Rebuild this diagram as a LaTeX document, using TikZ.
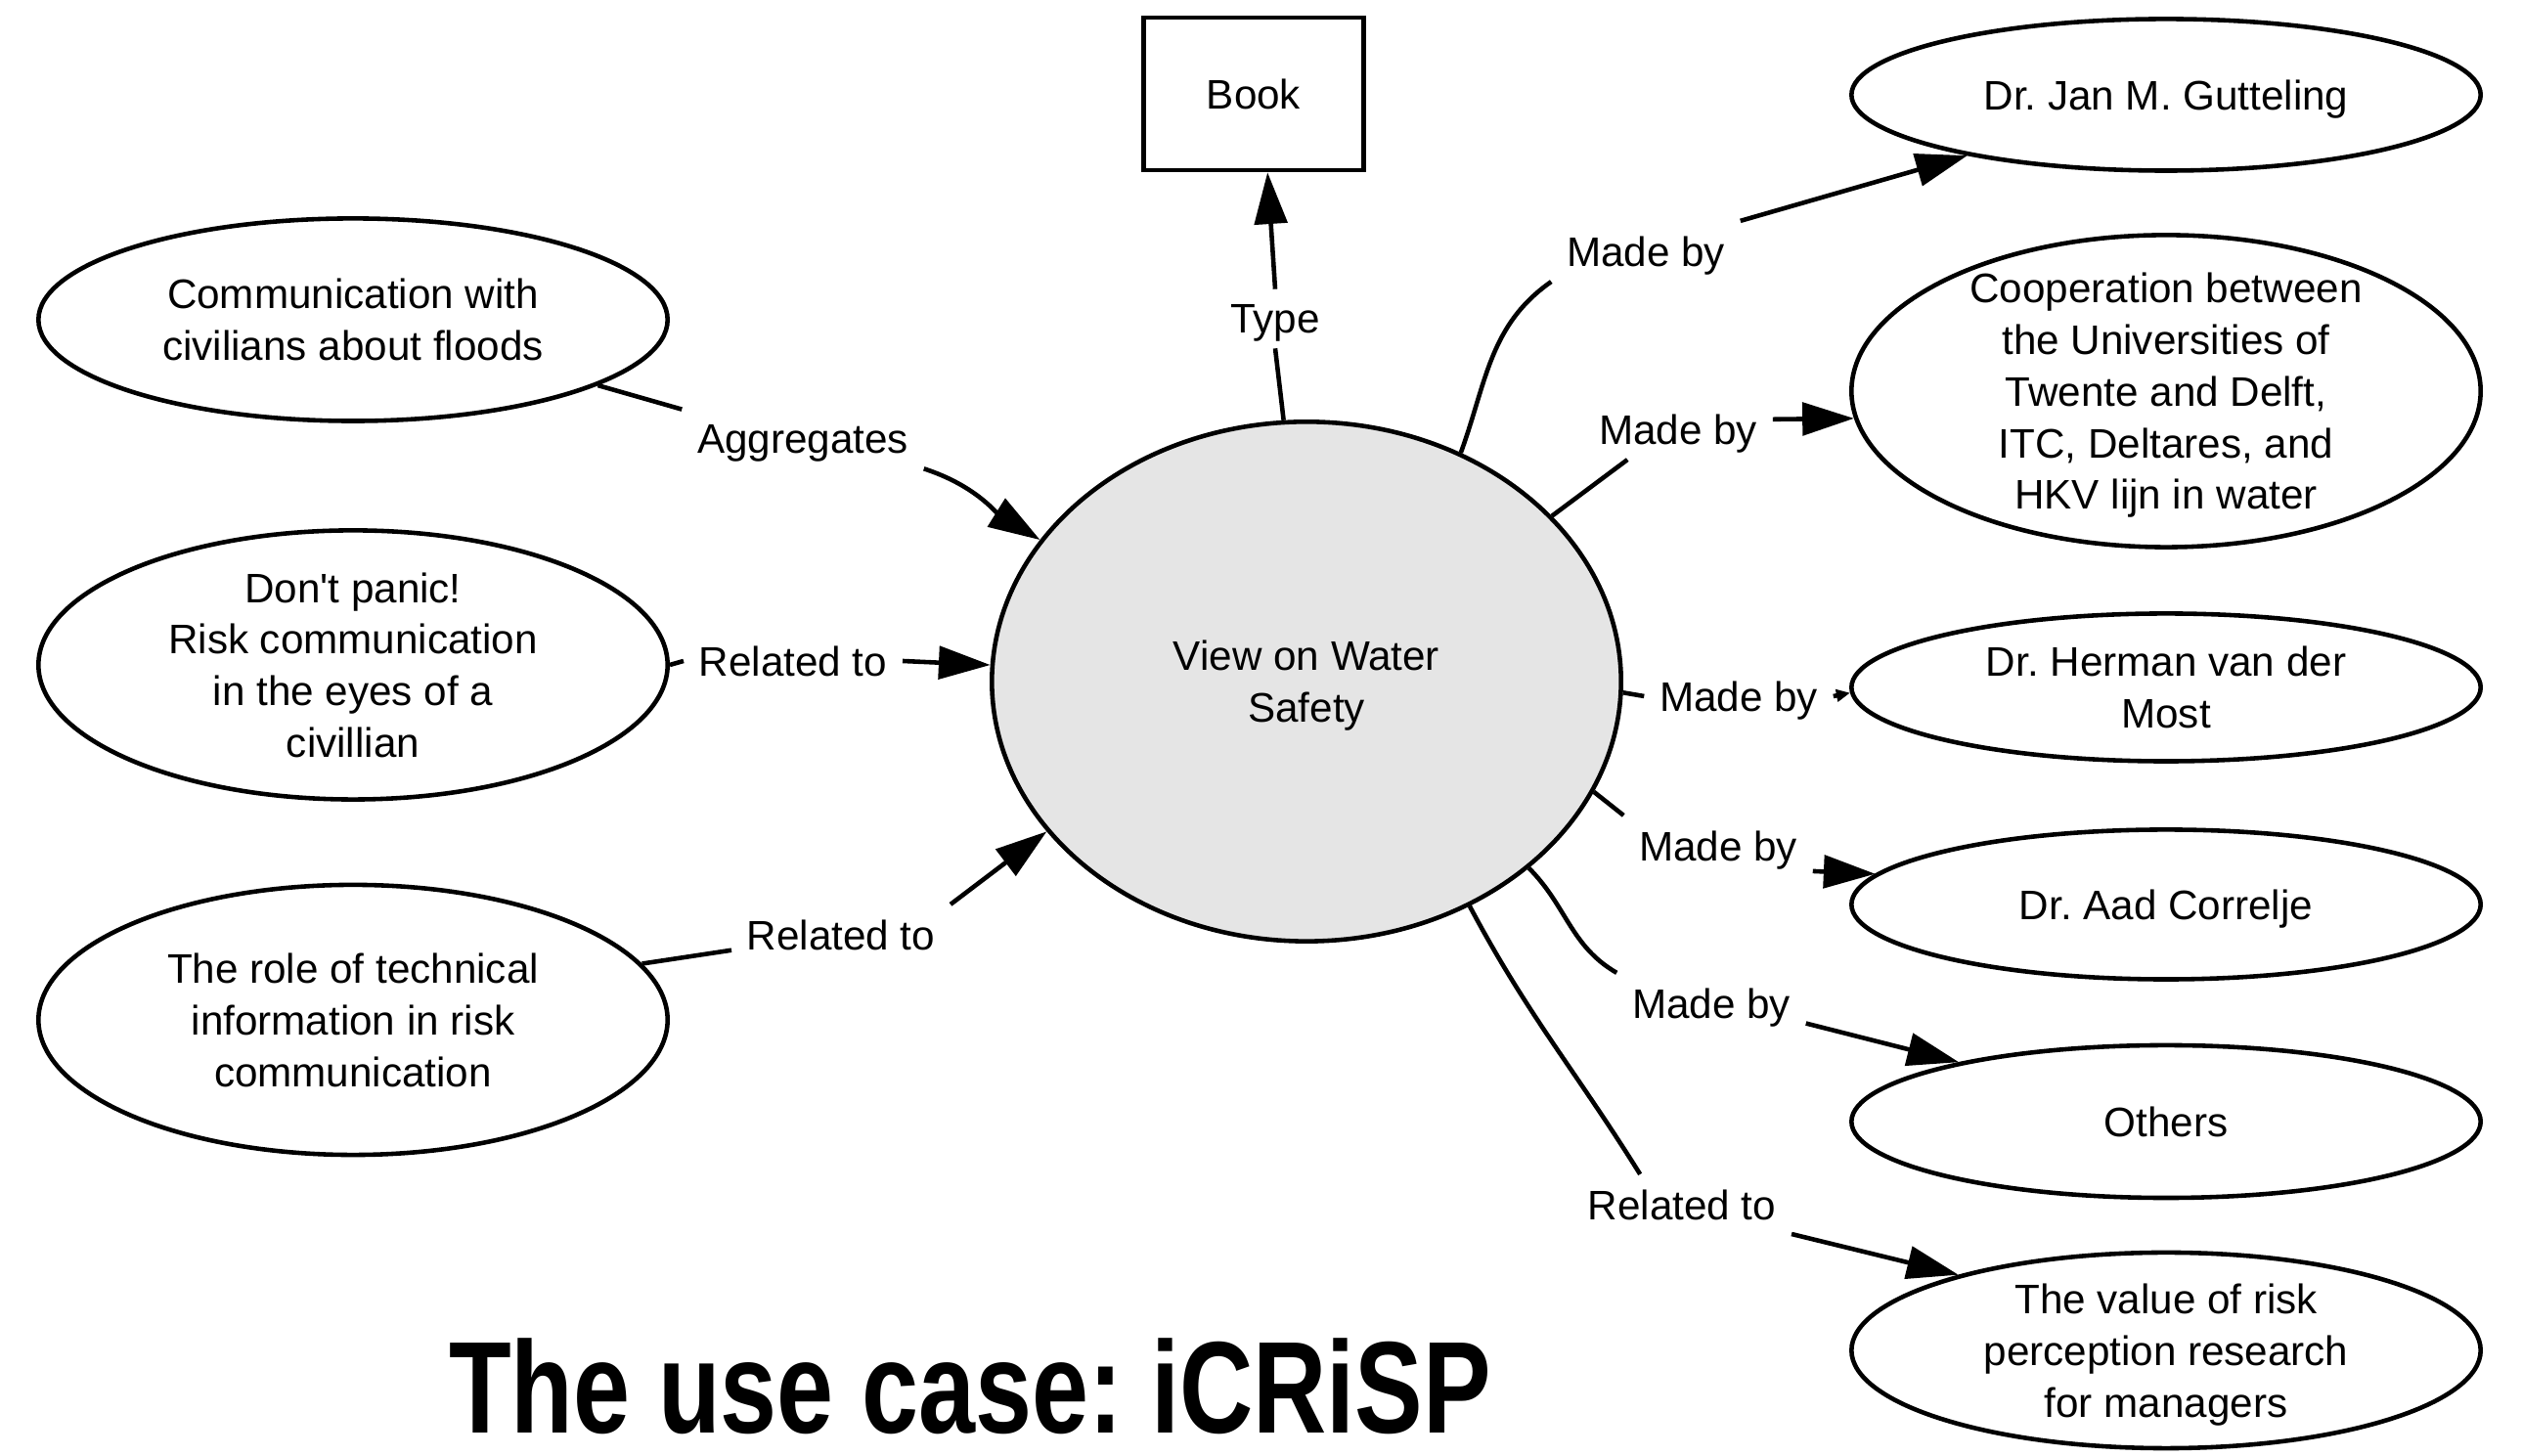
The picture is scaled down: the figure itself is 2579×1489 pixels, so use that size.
\documentclass[tikz,border=0pt]{standalone}
\usepackage{fontspec}
\setmainfont{Liberation Sans}
\usepackage{graphicx}
\usetikzlibrary{arrows.meta,shapes.geometric,positioning}

\tikzset{
  concept/.style={draw, ellipse, line width=1.3pt, minimum width=6.43cm, inner sep=0pt, text depth=0pt, align=center, font=\fontsize{12}{15}\selectfont},
  relname/.style={inner sep=4.3pt, text depth=0pt, font=\fontsize{12}{15}\selectfont},
  link/.style={line width=1.3pt},
  linkto/.style={link, -{Triangle[length=15pt,width=9.5pt]}},
}

\begin{document}
\frenchspacing
\begin{tikzpicture}[x=0.01cm, y=0.01cm]
\useasboundingbox (0,0) rectangle (2579,1489);
\node[concept, minimum height=5.31cm, fill=gray!20] (view) at (1336,792) {View on Water\\Safety};
\node[draw, rectangle, line width=1.3pt, minimum width=2.25cm, minimum height=1.56cm, font=\fontsize{12}{15}\selectfont] (book) at (1282,1393) {Book};
\node[concept, minimum height=2.07cm] (comm) at (361,1162) {Communication with\\civilians about floods};
\node[concept, minimum height=2.75cm, inner ysep=-2pt] (panic) at (361,809) {Don\textquotesingle t panic!\\Risk communication\\in the eyes of a\\civillian};
\node[concept, minimum height=2.76cm] (role) at (361,446) {The role of technical\\information in risk\\communication};
\node[concept, minimum height=1.55cm] (jan) at (2215,1392) {Dr. Jan M. Gutteling};
\node[concept, minimum height=3.19cm, inner ysep=-5pt] (coop) at (2215,1089) {Cooperation between\\the Universities of\\Twente and Delft,\\ITC, Deltares, and\\HKV lijn in water};
\node[concept, minimum height=1.51cm] (herman) at (2215,786) {Dr. Herman van der\\Most};
\node[concept, minimum height=1.53cm] (aad) at (2215,564) {Dr. Aad Correlje};
\node[concept, minimum height=1.56cm] (others) at (2215,342) {Others};
\node[concept, minimum height=2.0cm, inner ysep=-2pt] (value) at (2215,108) {The value of risk\\perception research\\for managers};

\node[relname] (type) at (1304,1163) {Type};
\node[relname] (mb1) at (1683,1232) {Made by};
\node[relname] (mb2) at (1716,1050) {Made by};
\node[relname] (mb3) at (1778,777) {Made by};
\node[relname] (mb4) at (1757,624) {Made by};
\node[relname] (mb5) at (1750,463) {Made by};
\node[relname] (rel3) at (1720,257) {Related to};
\node[relname] (agg) at (821,1040) {Aggregates};
\node[relname] (rel1) at (811,813) {Related to};
\node[relname] (rel2) at (860,533) {Related to};

\node (title) at (992,71) {\scalebox{0.78}[1]{\fontsize{38}{44}\selectfont\bfseries The use case: iCRiSP}};

\draw[link] (view.95) -- (type.south);
\draw[linkto] (type.north) -- (book.-80);
\draw[link] (view.56) to[out=70,in=215] (mb1.south west);
\draw[linkto] (mb1.north east) -- (jan.197);
\draw[link] (view.34) -- (mb2.211);
\draw[linkto] (mb2.6) -- (coop.185);
\draw[link] (view.-2) -- (mb3.west);
\draw[link, -{Triangle[length=4pt,width=3.5pt]}] (mb3.east) -- (herman.181);
\draw[link] (view.-21) -- (mb4.north west);
\draw[linkto] (mb4.-15) -- (aad.174);
\draw[link] (view.-40) to[out=-45,in=150] (mb5.north west);
\draw[linkto] (mb5.-12) -- (others.164);
\draw[link] (view.-54) to[out=-62,in=122] (rel3.144);
\draw[linkto] (rel3.-15) -- (value.160);
\draw[link] (comm.-15) -- (agg.north west);
\draw[linkto] (agg.south east) to[out=-18,in=148] (view.152);
\draw[link] (panic.east) -- (rel1.west);
\draw[linkto] (rel1.east) -- (view.177);
\draw[link] (role.11) -- (rel2.188);
\draw[linkto] (rel2.north east) -- (view.210);
\end{tikzpicture}
\end{document}
